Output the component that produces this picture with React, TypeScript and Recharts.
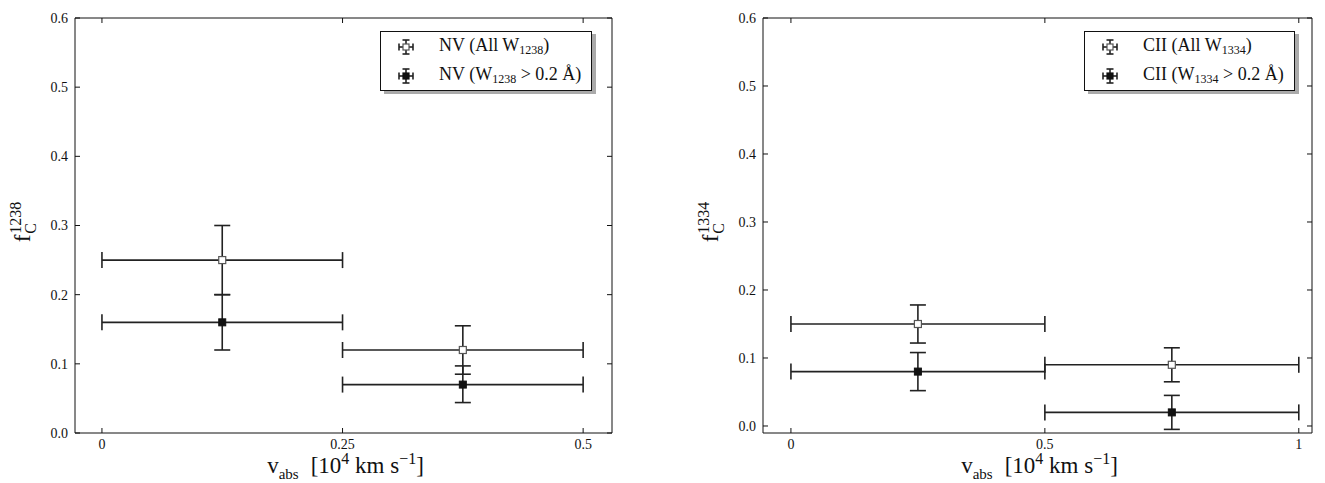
import { ErrorBar, Legend, Scatter, ScatterChart, XAxis, YAxis } from "recharts";

// NV 1238 panel
const NV_X = [0.125, 0.375];
const NV_X_ERR = [0.125, 0.125];
const NV_ALL = [0.25, 0.12];
const NV_ALL_ERR = [
  [0.05, 0.05],
  [0.035, 0.035],
];
const NV_STRONG = [0.16, 0.07];
const NV_STRONG_ERR = [
  [0.04, 0.04],
  [0.026, 0.027],
];
const NV_X_TICKS = [0, 0.25, 0.5];

// CII 1334 panel
const CII_X = [0.25, 0.75];
const CII_X_ERR = [0.25, 0.25];
const CII_ALL = [0.15, 0.09];
const CII_ALL_ERR = [
  [0.028, 0.028],
  [0.025, 0.025],
];
const CII_STRONG = [0.08, 0.02];
const CII_STRONG_ERR = [
  [0.028, 0.028],
  [0.025, 0.025],
];
const CII_X_TICKS = [0, 0.5, 1];

const Y_TICKS = [0, 0.1, 0.2, 0.3, 0.4, 0.5, 0.6];

const FONT = "'Liberation Serif', 'DejaVu Serif', serif";
const INK = "#222";

type Row = { x: number; y: number; xErr: number; yErr: number[] };

function rows(xs: number[], xErr: number[], ys: number[], yErr: number[][]): Row[] {
  return xs.map((x, i) => ({ x, y: ys[i], xErr: xErr[i], yErr: yErr[i] }));
}

const openSquare = (p: any) => (
  <rect x={p.cx - 3.5} y={p.cy - 3.5} width={7} height={7} fill="#fff" stroke="#555" strokeWidth={1.2} />
);
const filledSquare = (p: any) => (
  <rect x={p.cx - 3.5} y={p.cy - 3.5} width={7} height={7} fill="#111" stroke="#111" strokeWidth={1} />
);

function LegendIcon({ filled }: { filled: boolean }) {
  return (
    <svg width={18} height={18} style={{ display: "block" }}>
      <g stroke={INK} strokeWidth={1.6}>
        <line x1={2} y1={9} x2={16} y2={9} />
        <line x1={2} y1={5.5} x2={2} y2={12.5} />
        <line x1={16} y1={5.5} x2={16} y2={12.5} />
        <line x1={9} y1={2} x2={9} y2={16} />
        <line x1={5.5} y1={2} x2={12.5} y2={2} />
        <line x1={5.5} y1={16} x2={12.5} y2={16} />
      </g>
      <rect x={6} y={6} width={6} height={6} fill={filled ? "#111" : "#fff"} stroke={filled ? "#111" : "#555"} strokeWidth={1.2} />
    </svg>
  );
}

function LegendBox({ ion, w }: { ion: string; w: string }) {
  const sub = (t: string) => <sub style={{ fontSize: 12, verticalAlign: "-3px" }}>{t}</sub>;
  const rowStyle = { display: "flex", alignItems: "center", height: 29 } as const;
  return (
    <div
      style={{
        fontFamily: FONT,
        fontSize: 18,
        color: "#111",
        background: "#fff",
        border: "1px solid #111",
        boxShadow: "4px 3px 0 #aaa",
        padding: "0 10px 0 16px",
        whiteSpace: "nowrap",
      }}
    >
      <div style={rowStyle}>
        <LegendIcon filled={false} />
        <span style={{ marginLeft: 24 }}>
          {ion} (All W{sub(w)})
        </span>
      </div>
      <div style={rowStyle}>
        <LegendIcon filled />
        <span style={{ marginLeft: 24 }}>
          {ion} (W{sub(w)} &gt; 0.2 Å)
        </span>
      </div>
    </div>
  );
}

type PanelProps = {
  left: number;
  width: number;
  plotLeft: number;
  plotRight: number;
  xDomain: [number, number];
  yDomain: [number, number];
  xTicks: number[];
  xFmt: (v: number) => string;
  all: Row[];
  strong: Row[];
  ion: string;
  w: string;
  legendLeft: number;
};

const PLOT_TOP = 18;
const PLOT_BOTTOM = 433;
const H = 483;

function Panel(p: PanelProps) {
  const tickFont = { fontFamily: FONT, fontSize: 14, fill: "#111" };
  const margin = {
    top: PLOT_TOP - 1,
    bottom: H - PLOT_BOTTOM - 30,
    left: p.plotLeft - p.left - 40,
    right: p.left + p.width - p.plotRight - 1,
  };
  return (
    <>
      <div style={{ position: "absolute", left: p.left, top: 0 }}>
        <ScatterChart width={p.width} height={H} margin={margin}>
          <XAxis
            xAxisId="b"
            type="number"
            dataKey="x"
            domain={p.xDomain}
            allowDataOverflow
            ticks={p.xTicks}
            tickFormatter={p.xFmt}
            height={30}
            tickSize={-5}
            tickMargin={11}
            stroke="#111"
            tick={tickFont}
          />
          <XAxis
            xAxisId="t"
            orientation="top"
            type="number"
            dataKey="x"
            domain={p.xDomain}
            allowDataOverflow
            ticks={p.xTicks}
            tickFormatter={() => ""}
            height={1}
            tickSize={-5}
            stroke="#111"
          />
          <YAxis
            yAxisId="l"
            type="number"
            dataKey="y"
            domain={p.yDomain}
            allowDataOverflow
            ticks={Y_TICKS}
            tickFormatter={(v: number) => v.toFixed(1)}
            width={40}
            tickSize={-5}
            tickMargin={12}
            stroke="#111"
            tick={tickFont}
          />
          <YAxis
            yAxisId="r"
            orientation="right"
            type="number"
            dataKey="y"
            domain={p.yDomain}
            allowDataOverflow
            ticks={Y_TICKS}
            tickFormatter={() => ""}
            width={1}
            tickSize={-5}
            stroke="#111"
          />
          <Scatter
            name="all"
            data={p.all}
            xAxisId="b"
            yAxisId="l"
            shape={openSquare}
            isAnimationActive={false}
          >
            <ErrorBar dataKey="xErr" direction="x" width={8} stroke={INK} strokeWidth={1.6} isAnimationActive={false} />
            <ErrorBar dataKey="yErr" direction="y" width={8} stroke={INK} strokeWidth={1.6} isAnimationActive={false} />
          </Scatter>
          <Scatter
            name="strong"
            data={p.strong}
            xAxisId="b"
            yAxisId="l"
            shape={filledSquare}
            isAnimationActive={false}
          >
            <ErrorBar dataKey="xErr" direction="x" width={8} stroke={INK} strokeWidth={1.6} isAnimationActive={false} />
            <ErrorBar dataKey="yErr" direction="y" width={8} stroke={INK} strokeWidth={1.6} isAnimationActive={false} />
          </Scatter>
          <Legend
            layout="vertical"
            align="center"
            verticalAlign="middle"
            content={() => <LegendBox ion={p.ion} w={p.w} />}
            wrapperStyle={{ left: p.legendLeft - p.left, top: 31, width: "auto", height: "auto" }}
          />
        </ScatterChart>
      </div>
      {/* x label */}
      <div
        style={{
          position: "absolute",
          left: (p.plotLeft + p.plotRight) / 2 + 2,
          top: 454,
          transform: "translateX(-50%)",
          fontFamily: FONT,
          fontSize: 23,
          lineHeight: "24px",
          color: "#111",
          whiteSpace: "nowrap",
        }}
      >
        v<sub style={{ fontSize: 15, lineHeight: 0 }}>abs</sub>
        <span style={{ marginLeft: 12 }}>
          [10<sup style={{ fontSize: 16, lineHeight: 0 }}>4</sup> km s<sup style={{ fontSize: 16, lineHeight: 0 }}>−1</sup>]
        </span>
      </div>
      {/* y label */}
      <div
        style={{
          position: "absolute",
          left: p.plotLeft - 52,
          top: 222,
          transform: "translate(-50%, -50%) rotate(-90deg)",
          fontFamily: FONT,
          fontSize: 23,
          color: "#111",
          whiteSpace: "nowrap",
          display: "flex",
          alignItems: "center",
        }}
      >
        <span>f</span>
        <span style={{ display: "inline-flex", flexDirection: "column", fontSize: 16, lineHeight: 0.95, marginLeft: 1 }}>
          <span>{p.w}</span>
          <span>C</span>
        </span>
      </div>
    </>
  );
}

export default function App() {
  return (
    <div style={{ position: "absolute", left: 0, top: 0, width: 1325, height: 483, background: "#fff" }}>
      <Panel
        left={0}
        width={640}
        plotLeft={75}
        plotRight={612}
        xDomain={[-0.028, 0.53]}
        yDomain={[0, 0.6]}
        xTicks={NV_X_TICKS}
        xFmt={(v) => String(v)}
        all={rows(NV_X, NV_X_ERR, NV_ALL, NV_ALL_ERR)}
        strong={rows(NV_X, NV_X_ERR, NV_STRONG, NV_STRONG_ERR)}
        ion="NV"
        w="1238"
        legendLeft={380}
      />
      <Panel
        left={690}
        width={635}
        plotLeft={763}
        plotRight={1312}
        xDomain={[-0.055, 1.026]}
        yDomain={[-0.0103, 0.6]}
        xTicks={CII_X_TICKS}
        xFmt={(v) => String(v)}
        all={rows(CII_X, CII_X_ERR, CII_ALL, CII_ALL_ERR)}
        strong={rows(CII_X, CII_X_ERR, CII_STRONG, CII_STRONG_ERR)}
        ion="CII"
        w="1334"
        legendLeft={1084}
      />
    </div>
  );
}
